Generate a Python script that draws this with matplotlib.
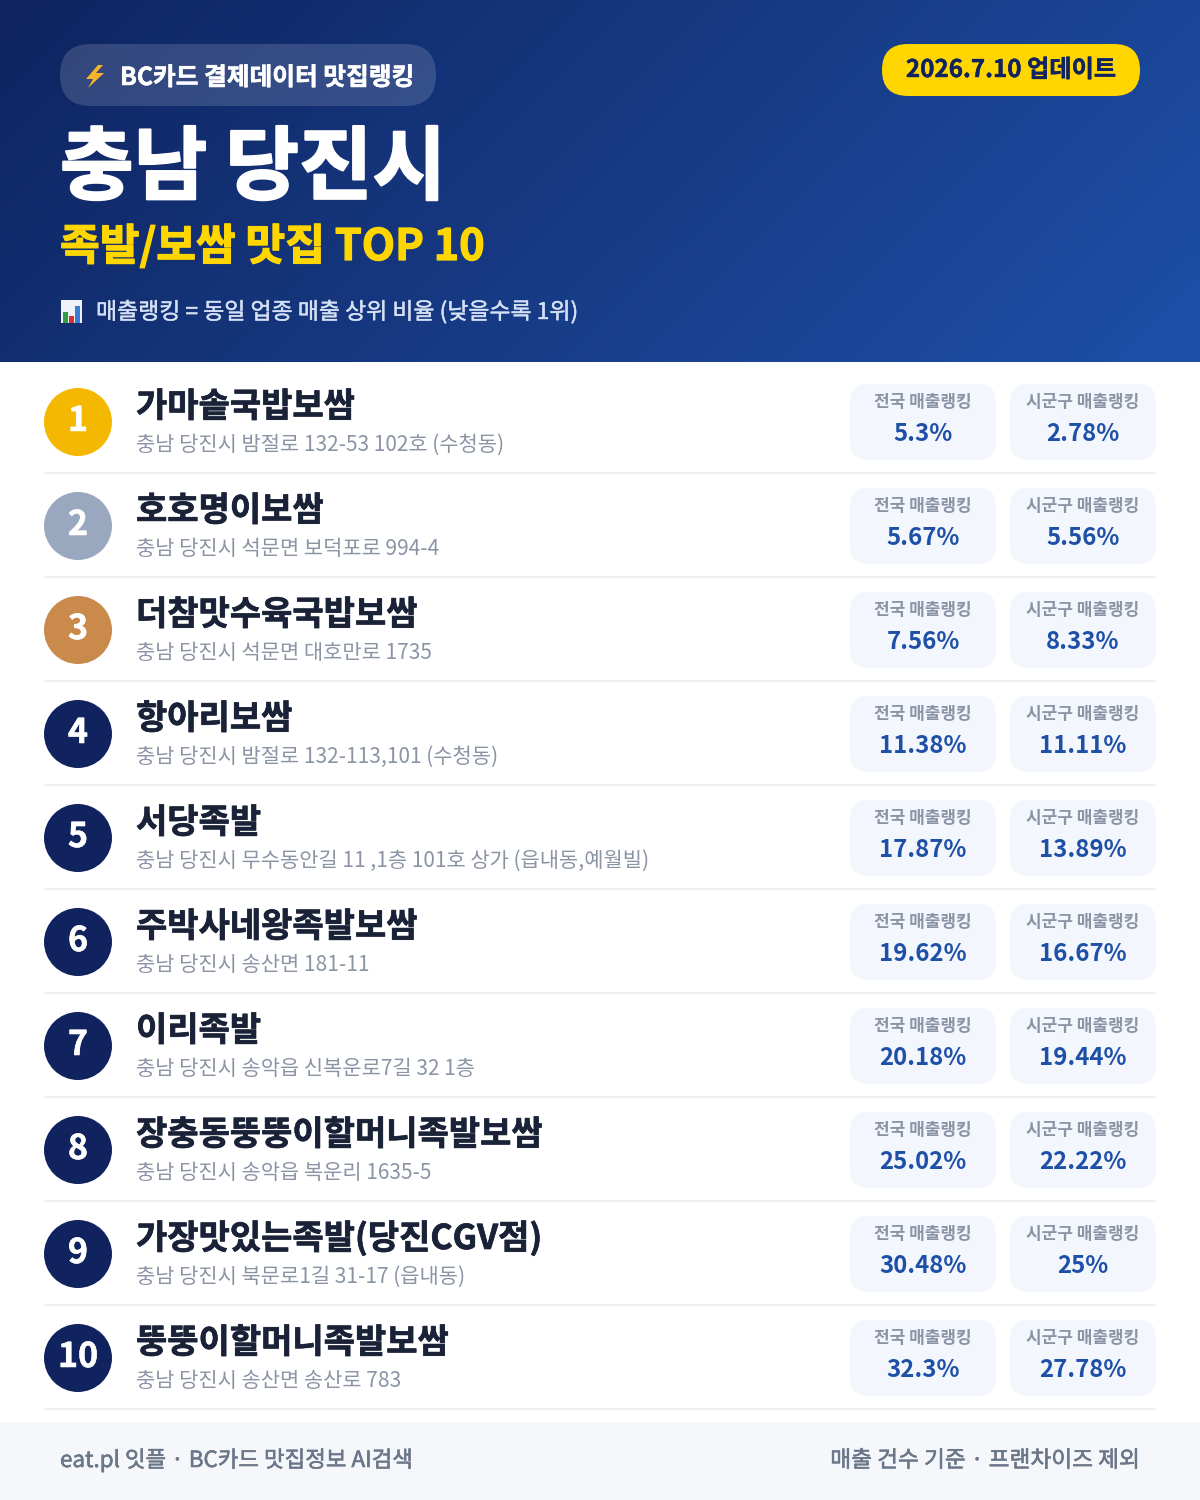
import numpy as np
import matplotlib as mpl
mpl.use("Agg")
import matplotlib.pyplot as plt
from matplotlib import patheffects as pe
from matplotlib.patches import Circle, FancyBboxPatch, Polygon, Rectangle

plt.rcParams['font.family'] = ['Noto Sans CJK KR', 'DejaVu Sans']

ranks = [str(i) for i in range(1, 11)]
names = ['가마솥국밥보쌈', '호호명이보쌈', '더참맛수육국밥보쌈', '항아리보쌈', '서당족발',
         '주박사네왕족발보쌈', '이리족발', '장충동뚱뚱이할머니족발보쌈',
         '가장맛있는족발(당진CGV점)', '뚱뚱이할머니족발보쌈']
addresses = ['충남 당진시 밤절로 132-53 102호 (수청동)',
             '충남 당진시 석문면 보덕포로 994-4',
             '충남 당진시 석문면 대호만로 1735',
             '충남 당진시 밤절로 132-113,101 (수청동)',
             '충남 당진시 무수동안길 11 ,1층 101호 상가 (읍내동,예월빌)',
             '충남 당진시 송산면 181-11',
             '충남 당진시 송악읍 신복운로7길 32 1층',
             '충남 당진시 송악읍 복운리 1635-5',
             '충남 당진시 북문로1길 31-17 (읍내동)',
             '충남 당진시 송산면 송산로 783']
national = ['5.3%', '5.67%', '7.56%', '11.38%', '17.87%',
            '19.62%', '20.18%', '25.02%', '30.48%', '32.3%']
district = ['2.78%', '5.56%', '8.33%', '11.11%', '13.89%',
            '16.67%', '19.44%', '22.22%', '25%', '27.78%']
circle_colors = ['#f5b800', '#9aa8bf', '#c98a4b'] + ['#10235f'] * 7

NAVY = '#0f2460'
BLUE = '#1e50a8'
YELLOW = '#ffd600'
ROW_H = 104
FIRST_Y = 370


def px(size):
    # font size given in image pixels (figure is at dpi 100)
    return size * 0.72


def rounded(ax, x0, y0, x1, y1, r, **kw):
    patch = FancyBboxPatch((x0 + r, y0 + r), x1 - x0 - 2 * r, y1 - y0 - 2 * r,
                           boxstyle="round,pad=%f,rounding_size=%f" % (r, r),
                           linewidth=0, **kw)
    ax.add_patch(patch)
    return patch


def heavy(ax, x, y, s, color, size, stroke, **kw):
    # the font only goes so heavy, thicken it with a stroke of the same colour
    return ax.text(x, y, s, color=color, fontsize=px(size),
                   path_effects=[pe.withStroke(linewidth=stroke, foreground=color)], **kw)


fig = plt.figure(figsize=(12, 15), dpi=100)
ax = fig.add_axes([0, 0, 1, 1])
ax.set_xlim(0, 1200)
ax.set_ylim(1500, 0)
ax.axis('off')

# header gradient, diagonal
xx, yy = np.meshgrid(np.linspace(0, 1, 300), np.linspace(0, 1, 90))
t = (xx * 1200 + yy * 362) / (1200 + 362)
start = np.array(mpl.colors.to_rgb(NAVY))
end = np.array(mpl.colors.to_rgb(BLUE))
grad = start + (end - start) * t[..., None]
ax.imshow(grad, extent=(0, 1200, 362, 0), aspect='auto', interpolation='bilinear', zorder=0)
ax.set_xlim(0, 1200)
ax.set_ylim(1500, 0)

rounded(ax, 60, 44, 436, 106, 31, facecolor='white', alpha=0.15, zorder=1)
ax.add_patch(Polygon([(98, 65), (86, 79), (93, 79), (88, 88), (104, 73), (96, 73), (103, 65)],
                     closed=True, facecolor='#f7b32b', zorder=2))
heavy(ax, 120, 85, 'BC카드 결제데이터 맛집랭킹', 'white', 24.7, 0.4, fontweight='bold', zorder=2)
heavy(ax, 60, 193, '충남 당진시', 'white', 80, 1.5, fontweight='bold', zorder=2)
heavy(ax, 60, 260, '족발/보쌈 맛집 TOP 10', YELLOW, 43.2, 0.9, fontweight='bold', zorder=2)

# little chart icon
ax.add_patch(Rectangle((61, 300), 21, 23, facecolor='#eef1f6', zorder=2))
for bx, top, c in [(63, 312, '#2f9e44'), (69, 316, '#d9302c'), (75, 306, '#3a7bd5')]:
    ax.add_patch(Rectangle((bx, top), 5, 323 - top, facecolor=c, zorder=3))
heavy(ax, 96, 319, '매출랭킹 = 동일 업종 매출 상위 비율 (낮을수록 1위)', '#d4e0f5', 22.9, 0.3, zorder=2)

rounded(ax, 882, 44, 1140, 96, 26, facecolor=YELLOW, zorder=1)
heavy(ax, 1011, 77, '2026.7.10 업데이트', '#10235f', 24.2, 0.3, fontweight='bold', ha='center', zorder=2)

# rows
for i in range(len(names)):
    top = FIRST_Y + i * ROW_H
    ax.add_patch(Circle((78, top + 52), 34, facecolor=circle_colors[i], linewidth=0, zorder=1))
    heavy(ax, 78, top + 61, ranks[i], 'white', 34, 0.4, fontweight='bold', ha='center', zorder=2)
    heavy(ax, 136, top + 47, names[i], '#1a2238', 34, 0.5, fontweight='bold', zorder=2)
    ax.text(136, top + 81, addresses[i], color='#8b94a5', fontsize=px(20.9), zorder=2)
    for x0, lab, val in [(850, '전국 매출랭킹', national[i]), (1010, '시군구 매출랭킹', district[i])]:
        x1 = x0 + 146
        rounded(ax, x0, top + 14, x1, top + 90, 18, facecolor='#f3f6fc', zorder=1)
        cx = (x0 + x1) / 2
        ax.text(cx, top + 37, lab, color='#8b94a5', fontsize=px(17), fontweight='bold',
                ha='center', zorder=2)
        ax.text(cx, top + 71, val, color=BLUE, fontsize=px(24), fontweight='bold',
                ha='center', zorder=2)
    ax.plot([44, 1156], [top + 103, top + 103], color='#eef0f3', lw=1.5, solid_capstyle='butt', zorder=1)

# footer
ax.add_patch(Rectangle((0, 1422), 1200, 78, facecolor='#f5f7fb', linewidth=0, zorder=1))
heavy(ax, 60, 1467, 'eat.pl 잇플 · BC카드 맛집정보 AI검색', '#6b7688', 22.4, 0.4, zorder=2)
heavy(ax, 1140, 1467, '매출 건수 기준 · 프랜차이즈 제외', '#6b7688', 22.7, 0.4, ha='right', zorder=2)

fig.savefig('out.png', dpi=100, facecolor='white')
